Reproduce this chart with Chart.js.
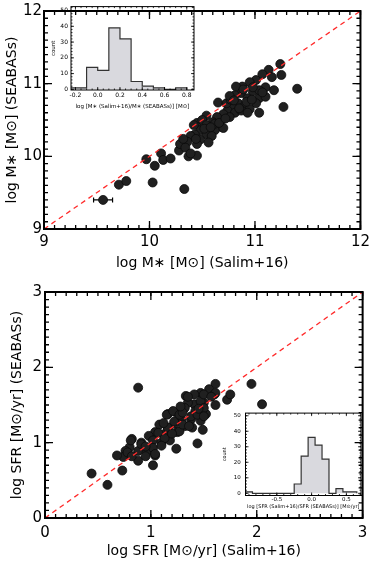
<!DOCTYPE html>
<html>
<head>
<meta charset="utf-8">
<script src="https://cdn.jsdelivr.net/npm/chart.js@4.4.0/dist/chart.umd.min.js"></script>
<style>
body { margin: 0; background: #fff; }
#wrap { position: relative; width: 374px; height: 562px; overflow: hidden; background: #fff; }
canvas { position: absolute; }
</style>
</head>
<body>
<div id="wrap">
  <canvas id="massChart" width="374" height="280" style="left:0;top:0"></canvas>
  <canvas id="massHist" width="152" height="114" style="left:48px;top:0"></canvas>
  <canvas id="sfrChart" width="374" height="282" style="left:0;top:280px"></canvas>
  <canvas id="sfrHist" width="148" height="108" style="left:222px;top:405px"></canvas>
</div>
<script>
// stellar mass: Salim+16 (x) vs SEABASs (y)
const massSalim = [9.56, 9.71, 9.78, 9.97, 10.03, 10.05, 10.11, 10.13, 10.20, 10.28, 10.33, 10.37, 10.45, 10.45, 10.54,
  11.24, 11.25, 11.40, 11.27, 11.13, 11.16, 11.07, 11.01, 11.10, 11.18, 10.95, 10.88, 10.82, 10.87, 10.81,
  10.98, 11.04, 11.10, 10.93, 11.01, 10.84, 10.90, 10.95, 10.79, 10.65, 10.74, 10.70, 10.81, 10.87, 10.93,
  10.76, 10.68, 10.64, 10.60, 10.50, 10.54, 10.67, 10.62, 10.48, 10.42, 10.43, 10.54, 10.59, 10.39, 10.48,
  10.36, 10.29, 10.34, 10.45, 10.56, 10.39, 10.73, 10.77, 10.76, 11.04, 11.04, 10.70, 10.62, 10.98,
  10.52, 10.66, 10.72, 10.85, 10.92, 10.97, 10.58, 10.44, 10.32, 10.80, 11.07, 10.89];
const massSeabass = [9.40, 9.61, 9.66, 9.96, 9.64, 9.87, 10.04, 9.95, 9.97, 10.08, 9.55, 10.00, 10.01, 10.46, 10.56,
  11.27, 11.12, 10.93, 10.68, 11.19, 11.09, 11.13, 11.05, 10.95, 10.91, 11.02, 10.96, 10.96, 10.87, 10.84,
  10.89, 10.80, 10.82, 10.80, 10.73, 10.73, 10.69, 10.65, 10.69, 10.74, 10.63, 10.58, 10.60, 10.63, 10.60,
  10.54, 10.50, 10.54, 10.47, 10.50, 10.43, 10.41, 10.36, 10.36, 10.43, 10.30, 10.30, 10.28, 10.28, 10.23,
  10.20, 10.17, 10.12, 10.17, 10.19, 10.04, 10.73, 10.78, 10.83, 10.91, 10.60, 10.39, 10.45, 10.95,
  10.38, 10.46, 10.52, 10.66, 10.75, 10.78, 10.40, 10.24, 10.24, 10.77, 10.88, 10.92];
const massErrX = 0.09;   // error bar shown on the first point
const massTicks = [9, 10, 11, 12];
const massDiag = [9, 12];

// SFR: Salim+16 (x) vs SEABASs (y)
const sfrSalim = [0.44, 0.59, 0.73, 0.88, 1.95, 2.05, 1.72, 1.75, 1.61, 1.44, 1.24, 1.02, 1.61, 1.55, 1.47,
  1.41, 1.33, 1.60, 1.50, 1.41, 1.35, 1.52, 1.42, 1.16, 1.24, 1.29, 1.38, 1.47, 1.49, 1.39,
  1.32, 1.22, 1.16, 1.08, 1.25, 1.12, 1.04, 0.98, 1.02, 1.10, 1.18, 0.91, 0.82, 0.80, 0.88,
  0.96, 0.76, 0.74, 0.68, 0.88, 0.95, 1.04, 1.07, 1.13, 1.16, 1.22, 1.27, 1.30, 1.15, 1.21,
  1.27, 1.32, 1.35, 1.38, 1.36, 1.44, 1.47, 1.50, 1.61, 1.50, 1.50, 1.57, 0.78, 0.81, 0.82,
  0.91, 1.02, 1.04, 1.10, 1.30, 1.12, 1.20, 0.95, 1.28, 1.45];
const sfrSeabass = [0.59, 0.44, 0.63, 1.73, 1.78, 1.51, 1.57, 1.64, 1.50, 0.99, 0.92, 0.70, 1.78, 1.71, 1.66,
  1.64, 1.62, 1.64, 1.53, 1.51, 1.53, 1.38, 1.42, 1.38, 1.40, 1.31, 1.31, 1.29, 1.17, 1.20,
  1.22, 1.25, 1.18, 1.24, 1.14, 1.11, 1.14, 1.09, 1.03, 1.00, 1.03, 1.00, 1.05, 0.94, 0.89,
  0.87, 0.89, 0.81, 0.83, 0.76, 0.82, 0.83, 1.13, 1.06, 1.20, 1.28, 1.15, 1.24, 1.37, 1.42,
  1.37, 1.46, 1.61, 1.35, 1.22, 1.37, 1.55, 1.64, 1.66, 1.46, 1.35, 1.61, 0.87, 1.03, 0.82,
  0.98, 0.93, 0.85, 0.96, 1.40, 1.26, 1.12, 0.95, 1.48, 1.45];
const sfrTicks = [0, 1, 2, 3];
const sfrDiag = [0, 3];

// inset histograms (bin edges + counts per bin)
const massBinEdges = [-0.3, -0.2, -0.1, 0.0, 0.1, 0.2, 0.3, 0.4, 0.5, 0.6, 0.7, 0.8];
const massCounts = [1, 1, 14, 12, 39, 32, 5, 2, 1, 0, 1];
const massHistTicks = [-0.2, 0.0, 0.2, 0.4, 0.6, 0.8];
const sfrBinEdges = [-0.95, -0.85, -0.75, -0.65, -0.55, -0.45, -0.35, -0.25, -0.15, -0.05, 0.05, 0.15, 0.25, 0.35, 0.45, 0.55, 0.65];
const sfrCounts = [1, 0, 0, 0, 0, 0, 0, 6, 24, 36, 31, 22, 0, 3, 1, 1];
const sfrHistTicks = [-0.5, 0.0, 0.5];
const countTicks = [0, 10, 20, 30, 40, 50];

Chart.defaults.font.family = "'DejaVu Sans', sans-serif";
Chart.defaults.color = '#000';

// box around the plot with inward ticks on all four sides
const framePlugin = {
  id: 'frame',
  afterDatasetsDraw(chart, args, o) {
    const { ctx, chartArea: a, scales: { x, y } } = chart;
    ctx.save();
    ctx.strokeStyle = '#000';
    const marks = (scale, step, len, horiz) => {
      const n0 = Math.ceil(scale.min / step - 1e-6), n1 = Math.floor(scale.max / step + 1e-6);
      ctx.beginPath();
      for (let n = n0; n <= n1; n++) {
        const p = scale.getPixelForValue(n * step);
        if (horiz) {
          ctx.moveTo(p, a.bottom); ctx.lineTo(p, a.bottom - len);
          ctx.moveTo(p, a.top); ctx.lineTo(p, a.top + len);
        } else {
          ctx.moveTo(a.left, p); ctx.lineTo(a.left + len, p);
          ctx.moveTo(a.right, p); ctx.lineTo(a.right - len, p);
        }
      }
      ctx.stroke();
    };
    ctx.lineWidth = o.tickWidth;
    marks(x, o.x[0], o.len[0], true);
    marks(x, o.x[1], o.len[1], true);
    marks(y, o.y[0], o.len[0], false);
    marks(y, o.y[1], o.len[1], false);
    ctx.lineWidth = o.width;
    ctx.strokeRect(a.left, a.top, a.width, a.height);
    if (o.topLabel) {
      ctx.fillStyle = '#000';
      ctx.font = "15px 'DejaVu Sans'";
      ctx.textAlign = 'right';
      ctx.textBaseline = 'middle';
      const py = Math.max(y.getPixelForValue(y.max), 7);
      ctx.fillText(o.topLabel, a.left - 2, py);
    }
    ctx.restore();
  }
};

function pairs(xs, ys) { return xs.map((v, i) => ({ x: v, y: ys[i] })); }
function diag(vals) { return vals.map(v => ({ x: v, y: v })); }
function steps(edges, counts) {
  const pts = [{ x: edges[0], y: 0 }];
  counts.forEach((c, i) => pts.push({ x: edges[i], y: c }));
  pts.push({ x: edges[edges.length - 1], y: counts[counts.length - 1] });
  pts.push({ x: edges[edges.length - 1], y: 0 });
  return pts;
}
const fixTicks = arr => s => { s.ticks = arr.map(v => ({ value: v })); };

const pointStyle = {
  pointRadius: 4.5, pointHoverRadius: 4.5,
  backgroundColor: '#202020', borderColor: '#0a0a0a', borderWidth: 0.8
};
const diagStyle = {
  showLine: true, borderColor: '#ff2b2b', borderWidth: 1.3, borderDash: [5, 4], pointRadius: 0, order: 0
};

function mainChart(id, xs, ys, diagVals, ticks, lay) {
  const datasets = [
    Object.assign({ data: diag(diagVals) }, diagStyle),
    Object.assign({ data: pairs(xs, ys), order: 1 }, pointStyle)
  ];
  if (lay.err) {
    datasets.push({
      data: [{ x: xs[0] - lay.err, y: ys[0] }, { x: xs[0] + lay.err, y: ys[0] }],
      showLine: true, borderColor: '#000', borderWidth: 1.2,
      pointStyle: 'line', rotation: 90, pointRadius: 2.5, pointBorderColor: '#000', pointBorderWidth: 1.2, order: 2
    });
  }
  return new Chart(document.getElementById(id), {
    type: 'scatter',
    data: { datasets },
    options: {
      responsive: false, animation: false, devicePixelRatio: 1,
      layout: { padding: { top: lay.top, right: lay.right, left: 0, bottom: 0 } },
      plugins: {
        legend: { display: false }, tooltip: { enabled: false },
        frame: { x: [1, 0.1], y: [1, 0.1], len: [8, 4], width: 2, tickWidth: 1.3, topLabel: lay.topLabel }
      },
      scales: {
        x: {
          type: 'linear', min: ticks[0], max: ticks[ticks.length - 1],
          afterBuildTicks: fixTicks(ticks),
          afterFit: s => { s.height = lay.xh; },
          grid: { display: false, drawTicks: false }, border: { display: false },
          ticks: { padding: lay.xpad, font: { size: 15 } },
          title: { display: true, text: lay.xTitle, font: { size: 14 }, padding: { top: 0, bottom: lay.xtp } }
        },
        y: {
          type: 'linear', min: ticks[0], max: ticks[ticks.length - 1],
          afterBuildTicks: fixTicks(ticks),
          afterFit: s => { s.width = lay.yw; },
          grid: { display: false, drawTicks: false }, border: { display: false },
          ticks: { padding: lay.ypad, font: { size: 15 }, callback: v => (lay.topLabel && v === ticks[ticks.length - 1]) ? '' : v },
          title: { display: true, text: lay.yTitle, font: { size: 14 }, padding: { top: lay.ytp, bottom: 0 } }
        }
      }
    },
    plugins: [framePlugin]
  });
}

function histChart(id, edges, counts, xTicks, lay) {
  return new Chart(document.getElementById(id), {
    type: 'line',
    data: {
      datasets: [{
        data: steps(edges, counts), stepped: 'before', fill: 'origin',
        backgroundColor: '#d9d9de', borderColor: '#333', borderWidth: 1.2, pointRadius: 0
      }]
    },
    options: {
      responsive: false, animation: false, devicePixelRatio: 1,
      layout: { padding: { top: lay.top, right: lay.right, left: 0, bottom: 0 } },
      plugins: {
        legend: { display: false }, tooltip: { enabled: false },
        frame: { x: lay.xs, y: [10, 2], len: [3, 1.5], width: 1, tickWidth: 0.8 }
      },
      scales: {
        x: {
          type: 'linear', min: lay.xmin, max: lay.xmax,
          afterBuildTicks: fixTicks(xTicks),
          afterFit: s => { s.height = lay.xh; },
          grid: { display: false, drawTicks: false }, border: { display: false },
          ticks: { padding: lay.xpad, font: { size: lay.fs }, callback: v => v.toFixed(1) },
          title: { display: true, text: lay.xTitle, font: { size: lay.ts }, padding: { top: 0, bottom: lay.xtp } }
        },
        y: {
          type: 'linear', min: lay.ymin, max: lay.ymax,
          afterBuildTicks: fixTicks(countTicks),
          afterFit: s => { s.width = lay.yw; },
          grid: { display: false, drawTicks: false }, border: { display: false },
          ticks: { padding: lay.ypad, font: { size: lay.fs } },
          title: { display: true, text: 'count', font: { size: lay.ts }, padding: { top: lay.ytp, bottom: 0 } }
        }
      }
    },
    plugins: [framePlugin]
  });
}

mainChart('massChart', massSalim, massSeabass, massDiag, massTicks, {
  top: 1, right: 7, xh: 51, yw: 44, xpad: 4, ypad: 2, xtp: 8.6, ytp: 3.6, err: massErrX, topLabel: '12',
  xTitle: 'log M\u2217 [M\u2299] (Salim+16)', yTitle: 'log M\u2217 [M\u2299] (SEABASs)'
});
mainChart('sfrChart', sfrSalim, sfrSeabass, sfrDiag, sfrTicks, {
  top: 10, right: 6, xh: 44, yw: 45, xpad: 6.6, ypad: 3, xtp: 2, ytp: 8.6,
  xTitle: 'log SFR [M\u2299/yr] (Salim+16)', yTitle: 'log SFR [M\u2299/yr] (SEABASs)'
});
histChart('massHist', massBinEdges, massCounts, massHistTicks, {
  top: 4, right: 6, xh: 24, yw: 23, xpad: 1.4, ypad: 3, xtp: 4.4, ytp: 2, fs: 6, ts: 5.5,
  xmin: -0.24, xmax: 0.865, ymin: -0.4, ymax: 52.5, xs: [0.2, 0.05],
  xTitle: 'log [M\u2217 (Salim+16)/M\u2217 (SEABASs)] [M\u2299]'
});
histChart('sfrHist', sfrBinEdges, sfrCounts, sfrHistTicks, {
  top: 8, right: 9, xh: 17.5, yw: 23.5, xpad: 1.2, ypad: 4.8, xtp: 3, ytp: 0, fs: 5.5, ts: 5,
  xmin: -0.95, xmax: 0.71, ymin: -1.4, ymax: 51.7, xs: [0.5, 0.1],
  xTitle: 'log [SFR (Salim+16)/SFR (SEABASs)] [M\u2299/yr]'
});
</script>
</body>
</html>
